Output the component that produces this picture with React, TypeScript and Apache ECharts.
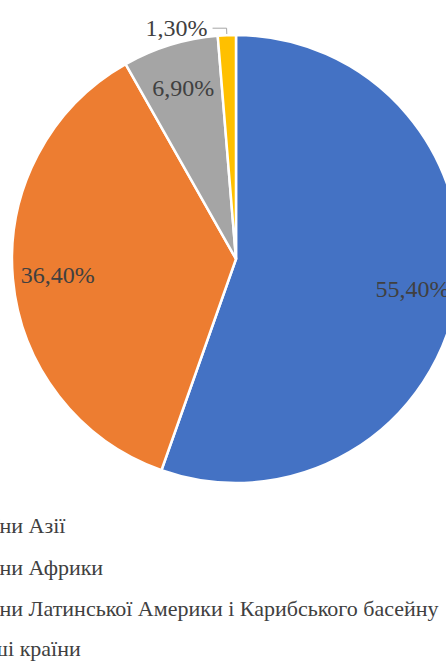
import React, { useEffect, useRef } from "react";
import * as echarts from "echarts";

const categories = [
  "Країни Азії",
  "Країни Африки",
  "Країни Латинської Америки і Карибського басейну",
  "Інші країни",
];
const values = [55.4, 36.4, 6.9, 1.3];
const valueLabels = ["55,40%", "36,40%", "6,90%", "1,30%"];
const colors = ["#4472C4", "#ED7D31", "#A5A5A5", "#FFC000"];

const FONT = "serif";
const TEXT_COLOR = "#404040";

export default function App() {
  const ref = useRef<HTMLDivElement>(null);
  useEffect(() => {
    if (!ref.current) return;
    const chart = echarts.init(ref.current, undefined, { renderer: "svg" });
    const center = [236, 259];
    const R = 224;
    const legendX = [-42, -42, -42, -28];
    const legendY = [514, 556, 597, 637];
    chart.setOption({
      animation: false,
      series: [
        {
          type: "pie",
          center,
          radius: [0, R],
          startAngle: 90,
          silent: true,
          label: { show: false },
          labelLine: { show: false },
          itemStyle: { borderColor: "#ffffff", borderWidth: 2.5 },
          data: categories.map((name, i) => ({
            name,
            value: values[i],
            itemStyle: { color: colors[i] },
          })),
        },
        {
          type: "pie",
          center,
          radius: [128, R],
          startAngle: 90,
          silent: true,
          itemStyle: { color: "rgba(0,0,0,0)" },
          label: {
            show: true,
            position: "inside",
            fontFamily: FONT,
            fontSize: 24,
            color: TEXT_COLOR,
            formatter: (p: any) => valueLabels[p.dataIndex],
          },
          labelLine: { show: false },
          data: categories.map((name, i) =>
            i === 3
              ? {
                  name,
                  value: values[i],
                  label: {
                    position: "outside",
                    alignTo: "none",
                    fontFamily: FONT,
                    fontSize: 24,
                    color: TEXT_COLOR,
                  },
                  labelLine: {
                    show: true,
                    length: 7,
                    length2: 14,
                    lineStyle: { color: "#A5A5A5", width: 1 },
                  },
                }
              : { name, value: values[i] }
          ),
        },
      ],
      graphic: categories.map((name, i) => ({
        type: "text",
        x: legendX[i],
        y: legendY[i],
        style: {
          text: name,
          fontFamily: FONT,
          fontSize: 22,
          fill: TEXT_COLOR,
        },
      })),
    });
    return () => chart.dispose();
  }, []);
  return (
    <div>
      <div
        aria-hidden
        style={{ position: "fixed", left: 0, top: 700, fontFamily: "serif", fontSize: 24, color: "#fff" }}
      >
        Країни 55,40%
      </div>
      <div
        ref={ref}
        style={{ position: "fixed", left: 0, top: 0, width: 446, height: 662, background: "#ffffff" }}
      />
    </div>
  );
}
